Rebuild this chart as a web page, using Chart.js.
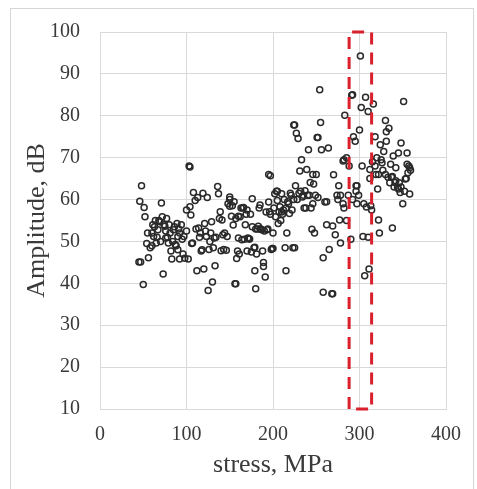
<!DOCTYPE html>
<html>
<head>
<meta charset="utf-8">
<script src="https://cdn.jsdelivr.net/npm/chart.js@4.4.1/dist/chart.umd.min.js"></script>
<style>
  html, body { margin: 0; padding: 0; background: #fff; }
  #wrap { position: relative; width: 477px; height: 489px; }
</style>
</head>
<body>
<div id="wrap"><canvas id="amp_vs_stress"></canvas></div>
<script>
"use strict"

// stress (MPa) and amplitude (dB) of each AE hit
var stress = [
  48,46,51,52,45,47,50,54,56,58,
  60,61,62,64,65,67,69,71,72,73,
  75,76,77,79,81,82,83,85,87,89,
  90,92,92,94,96,97,100,102,103,104,
  104,105,107,108,110,112,114,116,117,119,
  120,121,123,125,126,128,129,130,132,133,
  136,137,139,141,142,143,146,147,150,150,
  152,154,156,157,158,159,160,162,164,166,
  168,170,171,173,174,176,178,179,180,181,
  183,185,187,188,189,191,193,195,196,197,
  198,200,202,203,205,206,208,210,212,214,
  215,216,218,219,221,223,224,225,226,227,
  229,231,233,234,237,239,241,242,243,245,
  246,247,250,251,252,254,255,256,258,258,
  260,262,264,265,268,269,269,270,272,274,
  276,277,278,281,282,281,283,285,287,291,
  292,293,295,296,297,297,300,301,302,303,
  304,306,307,308,310,311,312,314,316,318,
  319,321,322,323,324,326,328,330,331,331,
  333,334,336,337,338,339,341,342,344,345,
  347,348,350,351,353,355,355,356,358,358,
  172,175,150,153,160,165,170,180,185,190,
  195,200,205,210,215,220,225,228,232,236,
  240,244,248,252,262,275,278,282,285,288,
  290,292,296,299,305,310,313,318,320,322,
  325,330,335,340,342,345,348,352,354,357,
  359,346,338,327,315,312,
  55,60,63,66,68,70,74,76,78,80,
  84,86,88,90,91,95,98,100,106,111,
  113,115,118,122,124,127,131,134,138,140,
  144,148,155,157,161,163,167,169,176,179,
  182,184,186,189,192,194,197,199,201,204,
  207,209,211,213,217,222,224,230,235,238,
  246,249
];
var amplitude = [
  63.3,59.6,58.1,55.9,45.1,45.1,39.7,49.5,46.1,48.5,
  52,54,51.2,55,49.6,52.8,54.7,59.2,55.9,42.2,
  53.6,50.8,55.5,49.6,52,47.7,45.8,52.8,49.3,54.3,
  51.2,45.8,52,54,47,51.2,57.5,45.8,68,67.8,
  58.3,56.3,49.6,61.7,59.8,43,53.2,52,47.7,61.5,
  43.4,54.3,51.2,38.3,48.1,52,54.7,40.3,50.8,44.2,
  63.1,61.4,57.1,55.1,51.6,48.1,47.9,51.2,60.6,58.4,
  56,53.9,39.9,39.9,45.9,47.7,50.8,55.9,50.4,58.1,
  54,47.7,50.8,50.6,56.5,60.2,48.5,43,38.7,47,
  53.6,58.7,52.8,47.7,45,41.5,52.8,59.4,57.1,65.7,
  48.1,52,61.4,55.9,59.8,54.3,58.3,61.4,57.5,48.5,
  43,52,59,56.7,61,48.5,77.8,77.8,63.3,75.8,
  74.6,66.8,69.5,60.6,62.1,67.2,71.9,61,64.1,52.9,
  59,63.7,66,74.8,74.8,86.2,78.4,71.9,37.9,46.1,
  59.4,54,72.3,48.1,37.5,37.5,53.7,65.9,51.6,61,
  63.3,55.1,49.6,69.2,69.5,59,80.1,70,61,84.9,
  85,75,73.9,63.3,63.3,59,76.6,94.3,82,68,
  51.2,41.8,84.4,58.2,81,43.4,67.2,57.5,82.8,75,
  66,62.5,55.1,52,73.1,68.8,71.5,78.9,76.2,73.9,
  65.3,77,68.4,65.3,53.2,70.4,64.1,67.6,62.9,71.1,
  61.7,73.5,59,83.4,64.9,71.1,68.4,66.4,61.3,67.6,
  50.6,47.5,60,58.5,56,58,57.5,53,53,52.5,
  66,48.3,62,57,58,61.5,48.5,60,62,58,
  61,58,52,60.5,59.5,60,61,58,55,68,
  50.5,60,62,61,59,51,58.5,68,70,66,
  69.5,66,64,63,64.5,62.5,63,62,65,68,
  67,64,65.5,67,69,65,
  52,49,53.5,51,55,50,54,52.5,51,54,
  50,53.5,49,48,53,50.5,46,52.5,49.5,53,
  60.5,51,48,52.5,60.5,50,48.5,51,55.5,47.8,
  52,59,59.5,55.5,47,58,50.5,56.5,53.5,48.6,
  53,58,53,44,57,53,56.5,48.3,58,62,
  57,55,56.5,60,59.5,57.5,60,61.5,61,58,
  66,61
];

// the marked stress window (red dashed box)
var windowStress = [288, 314];
var windowAmp = [10, 100];

var serif = "'Liberation Serif', 'Times New Roman', serif";
var textColor = '#3a3a3a';
var gridColor = '#d9d9d9';

var points = stress.map(function (s, i) { return { x: s, y: amplitude[i] }; });

var framePlugin = {
    id: 'frame',
    beforeDraw: function (chart) {
        var ctx = chart.ctx;
        ctx.save();
        ctx.strokeStyle = '#d6d6d6';
        ctx.lineWidth = 1;
        ctx.strokeRect(10.5, 8.5, 463, 500);
        ctx.restore();
    }
};

var windowPlugin = {
    id: 'stressWindow',
    afterDatasetsDraw: function (chart) {
        var ctx = chart.ctx;
        var xs = chart.scales.x, ys = chart.scales.y;
        var x1 = xs.getPixelForValue(windowStress[0]);
        var x2 = xs.getPixelForValue(windowStress[1]);
        var yTop = ys.getPixelForValue(windowAmp[1]);
        var yBot = ys.getPixelForValue(windowAmp[0]);
        ctx.save();
        ctx.strokeStyle = '#d9202c';
        ctx.lineWidth = 3;
        ctx.setLineDash([12, 8]);
        ctx.beginPath();
        ctx.moveTo(x1, yBot);
        ctx.lineTo(x1, yTop);
        ctx.lineTo(x2, yTop);
        ctx.lineTo(x2, yBot);
        ctx.closePath();
        ctx.stroke();
        ctx.restore();
    }
};

var amp_config = {
    type: 'scatter',
    data: {
        datasets: [{
            data: points,
            pointStyle: 'circle',
            pointRadius: 3,
            pointHoverRadius: 3,
            borderWidth: 1.5,
            borderColor: '#2a2a2a',
            backgroundColor: 'rgba(0,0,0,0)'
        }]
    },
    options: {
        responsive: true,
        maintainAspectRatio: false,
        animation: false,
        layout: { padding: { left: 0, right: 31, top: 25, bottom: 0 } },
        plugins: {
            legend: { display: false },
            tooltip: { enabled: false }
        },
        scales: {
            x: {
                type: 'linear',
                min: 0,
                max: 400,
                afterFit: function (scale) { scale.height = 80; },
                ticks: {
                    stepSize: 100,
                    padding: 14,
                    color: textColor,
                    font: { family: serif, size: 20 }
                },
                grid: { color: gridColor, drawTicks: false },
                border: { color: gridColor },
                title: {
                    display: true,
                    text: 'stress, MPa',
                    color: textColor,
                    font: { family: serif, size: 26 },
                    padding: { top: 0, bottom: 8 }
                }
            },
            y: {
                type: 'linear',
                min: 10,
                max: 100,
                afterFit: function (scale) { scale.width = 100; },
                ticks: {
                    stepSize: 10,
                    padding: 20,
                    color: textColor,
                    font: { family: serif, size: 20 }
                },
                grid: { color: gridColor, drawTicks: false },
                border: { color: gridColor },
                title: {
                    display: true,
                    text: 'Amplitude, dB',
                    color: textColor,
                    font: { family: serif, size: 26 },
                    padding: { top: 22, bottom: 0 }
                }
            }
        }
    },
    plugins: [framePlugin, windowPlugin]
};

var amp_ctx = document.getElementById('amp_vs_stress').getContext('2d');
var amp_chart = new Chart(amp_ctx, amp_config);
</script>
</body>
</html>
